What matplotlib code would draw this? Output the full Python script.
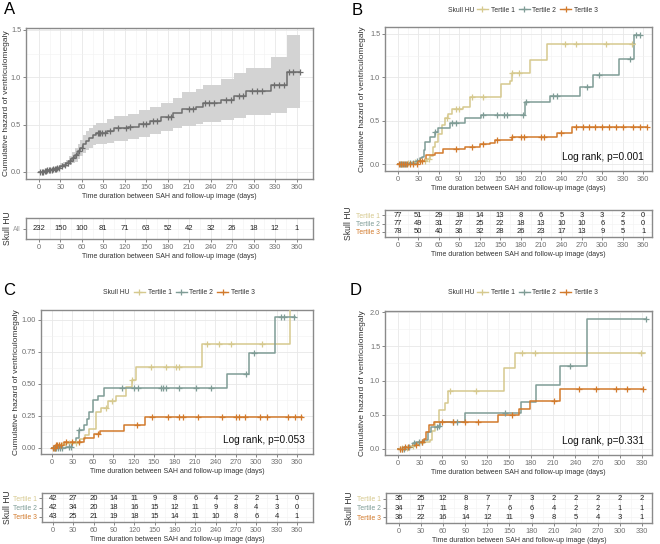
import numpy as np
import matplotlib

matplotlib.use("Agg")
import matplotlib.pyplot as plt
from matplotlib.lines import Line2D

plt.rcParams["font.family"] = ["Liberation Sans", "DejaVu Sans"]

# colours
c1 = "#D6C98E"
c2 = "#7F9C96"
c3 = "#D27A2C"
cA = "#6E6E6E"

W, H = 660, 544
xlab = "Time duration between SAH and follow-up image (days)"
ylab = "Cumulative hazard of ventriculomegaly"

# ---- panel A (all patients) ----
A_time = [0, 4, 8, 12, 16, 20, 25, 30, 34, 38, 42, 46, 50, 54, 58, 62, 66, 70, 75, 80,
          95, 105, 125, 140, 155, 170, 188, 200, 220, 230, 255, 272, 290, 325, 347]
A_haz = [0, .005, .01, .02, .025, .03, .04, .06, .075, .09, .12, .15, .18, .22, .25, .30, .33, .36, .39, .41,
         .435, .46, .48, .51, .54, .58, .62, .66, .69, .73, .76, .80, .86, .92, 1.06]
A_lo = [0, 0, 0, .005, .008, .01, .015, .03, .04, .05, .07, .09, .11, .14, .17, .20, .23, .25, .28, .30,
        .31, .33, .35, .37, .40, .43, .46, .49, .51, .53, .55, .57, .60, .62, .68]
A_hi = [0, .012, .02, .035, .04, .05, .065, .09, .11, .13, .17, .21, .25, .30, .34, .39, .43, .46, .50, .52,
        .56, .59, .61, .65, .69, .73, .78, .84, .88, .92, .98, 1.04, 1.10, 1.21, 1.45]
A_end = 365
A_cens = [2, 4, 6, 8, 10, 12, 14, 16, 18, 20, 22, 24, 26, 28, 32, 36, 40, 44, 48, 52, 56, 60,
          82, 84, 86, 88, 92, 100, 110, 122, 127, 145, 150, 160, 165, 180, 185, 210, 215, 232,
          238, 245, 262, 268, 280, 285, 298, 305, 312, 328, 335, 342, 350, 355, 365]
A_risk = [232, 150, 100, 81, 71, 63, 52, 42, 32, 26, 18, 12, 1]

# ---- panel B ----
B1_time = [0, 10, 20, 35, 42, 47, 52, 55, 59, 64, 69, 74, 79, 95, 106, 151, 165, 167, 194, 219]
B1_haz = [0, .01, .02, .04, .06, .09, .2, .26, .35, .45, .53, .58, .63, .66, .77, .92, .96, 1.05, 1.2, 1.38]
B1_end = 348
B1_cens = [5, 15, 25, 40, 45, 72, 85, 90, 108, 125, 168, 178, 245, 262, 305, 343]
B2_time = [0, 15, 27, 32, 35, 38, 40, 47, 54, 59, 76, 98, 122, 187, 223, 267, 287, 325, 346]
B2_haz = [0, .01, .04, .07, .085, .16, .26, .31, .37, .41, .47, .53, .565, .71, .79, .89, 1.03, 1.21, 1.49]
B2_end = 355
B2_cens = [3, 6, 9, 12, 18, 22, 28, 55, 80, 85, 125, 145, 155, 160, 183, 188, 227, 233, 278, 295,
           340, 350, 355]
B3_time = [0, 29, 39, 41, 55, 66, 99, 121, 135, 142, 167, 233, 255]
B3_haz = [0, .03, .06, .11, .13, .17, .2, .23, .24, .28, .31, .36, .43]
B3_end = 365
B3_cens = [2, 5, 8, 11, 14, 17, 22, 28, 32, 36, 85, 108, 125, 145, 167, 180, 185, 210, 215, 240,
           262, 272, 280, 290, 300, 310, 320, 330, 345, 355, 365]
B_risk = [[77, 51, 29, 18, 14, 13, 8, 6, 5, 3, 3, 2, 0],
          [77, 49, 31, 27, 25, 22, 18, 13, 10, 10, 6, 5, 0],
          [78, 50, 40, 36, 32, 28, 26, 23, 17, 13, 9, 5, 1]]

# ---- panel C ----
C1_time = [0, 6, 21, 42, 48, 55, 65, 72, 82, 94, 109, 118, 124, 221, 349]
C1_haz = [0, .02, .04, .07, .1, .15, .28, .31, .37, .41, .48, .53, .63, .81, 1.12]
C1_end = 352
C1_cens = [5, 10, 15, 25, 35, 80, 88, 118, 145, 167, 183, 187, 228, 245, 263, 308]
C2_time = [0, 20, 30, 35, 40, 47, 52, 55, 60, 67, 77, 257, 289, 327]
C2_haz = [0, .01, .04, .075, .14, .18, .23, .28, .375, .41, .47, .58, .74, 1.02]
C2_end = 357
C2_cens = [3, 6, 9, 12, 15, 25, 28, 40, 103, 120, 127, 160, 163, 167, 186, 212, 234, 285, 297,
           337, 341, 355]
C3_time = [0, 6, 18, 47, 62, 70, 106, 137]
C3_haz = [0, .02, .05, .08, .11, .13, .18, .24]
C3_end = 367
C3_cens = [2, 4, 6, 8, 10, 13, 20, 30, 40, 68, 125, 147, 170, 187, 193, 215, 250, 270, 275, 283,
           305, 316, 347, 357, 366]
C_risk = [[42, 27, 20, 14, 11, 9, 8, 6, 4, 2, 2, 1, 0],
          [42, 34, 20, 18, 16, 15, 12, 11, 9, 8, 4, 3, 0],
          [43, 25, 21, 19, 18, 15, 14, 11, 10, 8, 6, 4, 1]]

# ---- panel D ----
D1_time = [0, 5, 15, 25, 35, 43, 46, 50, 56, 64, 67, 144, 158]
D1_haz = [0, .02, .05, .08, .1, .13, .26, .40, .57, .67, .85, 1.18, 1.4]
D1_end = 334
D1_cens = [3, 6, 12, 20, 28, 70, 105, 168, 185, 328]
D2_time = [0, 10, 20, 25, 35, 40, 45, 54, 57, 90, 167, 187, 219, 256]
D2_haz = [0, .03, .08, .1, .13, .25, .32, .33, .40, .53, .68, .93, 1.21, 1.9]
D2_end = 336
D2_cens = [5, 8, 15, 22, 28, 32, 53, 55, 75, 80, 145, 232, 336]
D3_time = [0, 8, 20, 28, 35, 38, 42, 48, 135, 163, 179, 219]
D3_haz = [0, .03, .06, .1, .15, .25, .35, .39, .49, .58, .70, .87]
D3_end = 332
D3_cens = [3, 6, 10, 14, 25, 32, 60, 75, 90, 108, 154, 211, 245, 268, 295, 310, 332]
D_risk = [[35, 25, 12, 8, 7, 7, 3, 2, 2, 2, 2, 2],
          [34, 17, 11, 8, 7, 6, 6, 4, 2, 2, 1, 1],
          [36, 22, 16, 14, 12, 11, 9, 8, 5, 4, 3, 1]]

tert_labels = ["Tertile 1", "Tertile 2", "Tertile 3"]
tert_colors = [c1, c2, c3]

TICK_FS = 5.3
XLAB_FS = 5.0
YLAB_FS = 6.0


def rect(l, t, r, b):
    return [l / W, 1 - b / H, (r - l) / W, (b - t) / H]


def style_ax(ax, xticks, xlim, minor_x):
    ax.set_facecolor("white")
    ax.set_xlim(*xlim)
    ax.set_xticks(xticks)
    ax.set_xticks(minor_x, minor=True)
    ax.grid(True, which="major", color="#E8E8E8", lw=0.6, zorder=0)
    ax.grid(True, which="minor", color="#F2F2F2", lw=0.4, zorder=0)
    ax.set_axisbelow(True)
    for s in ax.spines.values():
        s.set_color("#8A8A8A")
        s.set_linewidth(1.0)
    ax.tick_params(which="major", length=2, width=0.5, color="#555555",
                   labelsize=TICK_FS, labelcolor="#707070", pad=1.5)
    ax.tick_params(which="minor", length=0)


def draw_curve(ax, t, h, end, cens, color, lw=1.1):
    t = np.asarray(t, float)
    h = np.asarray(h, float)
    tt = np.append(t, end)
    hh = np.append(h, h[-1])
    ax.plot(tt, hh, drawstyle="steps-post", color=color, lw=lw, zorder=3)
    cens = np.asarray(cens, float)
    idx = np.searchsorted(t, cens, side="right") - 1
    ax.plot(cens, h[idx], ls="none", marker="+", ms=4.5, mew=0.9, color=color, zorder=4)


def km_axes(rc, xlim, ylim, xticks, yticks, yfmt, ypad=2.5):
    ax = fig.add_axes(rect(*rc))
    style_ax(ax, xticks, xlim, [x + 15 for x in xticks[:-1]])
    ax.set_ylim(*ylim)
    ax.set_yticks(yticks)
    ax.set_yticks([(a + b) / 2 for a, b in zip(yticks[:-1], yticks[1:])], minor=True)
    ax.set_yticklabels([yfmt.format(v) for v in yticks])
    ax.set_xlabel(xlab, fontsize=XLAB_FS, color="#333333", labelpad=1.5)
    ax.set_ylabel(ylab, fontsize=YLAB_FS, color="#333333", labelpad=ypad)
    return ax


def risk_axes(rc, xlim, xticks, data, labels, colors, ypad=2):
    ax = fig.add_axes(rect(*rc))
    style_ax(ax, xticks, xlim, [x + 15 for x in xticks[:-1]])
    n = len(data)
    ax.set_ylim(-0.6, n - 0.4)
    ax.set_yticks(list(range(n - 1, -1, -1)))
    ax.set_yticklabels(labels)
    for lbl, col in zip(ax.get_yticklabels(), colors):
        lbl.set_color(col)
        lbl.set_fontsize(4.9)
    for i, row in enumerate(data):
        for x, v in zip(xticks, row):
            ax.text(x, n - 1 - i, str(v), ha="center", va="center", fontsize=5.5, color="#222222")
    ax.set_xlabel(xlab, fontsize=XLAB_FS, color="#333333", labelpad=1.5)
    ax.set_ylabel("Skull HU", fontsize=6.2, color="#333333", labelpad=ypad)
    ax.grid(True, which="major", axis="y", color="#F2F2F2", lw=0.4)
    return ax


def legend(x_title, y, x_leg):
    fig.text(x_title / W, 1 - y / H, "Skull HU", fontsize=4.9, color="#333333", va="center")
    handles = [Line2D([], [], color=c, lw=1.0, marker="+", ms=5, mew=0.9) for c in tert_colors]
    fig.legend(handles, tert_labels, loc="center left", bbox_to_anchor=(x_leg / W, 1 - y / H),
               ncol=3, frameon=False, prop={"size": 4.9}, handlelength=1.6, handletextpad=0.4,
               columnspacing=0.6, borderpad=0, borderaxespad=0, labelcolor="#333333")


fig = plt.figure(figsize=(6.6, 5.44), dpi=100)
fig.patch.set_facecolor("white")

xt360 = list(range(0, 361, 30))
xt330 = list(range(0, 331, 30))

# A
ax = km_axes((26, 28, 313, 179), (-18, 383), (-0.074, 1.52), xt360, [0, .5, 1.0, 1.5], "{:.1f}", ypad=0.8)
tA = np.append(A_time, A_end)
ax.fill_between(tA, np.append(A_lo, A_lo[-1]), np.append(A_hi, A_hi[-1]), step="post",
                color="#D3D3D3", lw=0, zorder=2)
draw_curve(ax, A_time, A_haz, A_end, A_cens, cA)
risk_axes((26, 218, 313, 239), (-18, 383), xt360, [A_risk], ["All"], ["#999999"], ypad=0.8)

# B
ax = km_axes((385, 27, 652, 171), (-19, 373), (-0.08, 1.58), xt360, [0, .5, 1.0, 1.5], "{:.1f}")
for t, h, e, cs, col in [(B1_time, B1_haz, B1_end, B1_cens, c1), (B2_time, B2_haz, B2_end, B2_cens, c2),
                         (B3_time, B3_haz, B3_end, B3_cens, c3)]:
    draw_curve(ax, t, h, e, cs, col)
ax.text(0.97, 0.06, "Log rank, p=0.001", transform=ax.transAxes, ha="right", va="bottom",
        fontsize=7.3, color="#111111")
risk_axes((385, 210, 652, 237), (-19, 373), xt360, B_risk, tert_labels, tert_colors)
legend(448, 10, 477)

# C
ax = km_axes((41, 310, 313, 454), (-16, 383.5), (-0.047, 1.078), xt360, [0, .25, .5, .75, 1.0], "{:.2f}",
             ypad=1.5)
for t, h, e, cs, col in [(C1_time, C1_haz, C1_end, C1_cens, c1), (C2_time, C2_haz, C2_end, C2_cens, c2),
                         (C3_time, C3_haz, C3_end, C3_cens, c3)]:
    draw_curve(ax, t, h, e, cs, col)
ax.text(0.97, 0.06, "Log rank, p=0.053", transform=ax.transAxes, ha="right", va="bottom",
        fontsize=7.3, color="#111111")
risk_axes((42, 493, 313, 522), (-16, 383.5), xt360, C_risk, tert_labels, tert_colors, ypad=1)
legend(103, 293, 134)

# D
ax = km_axes((385, 311, 652, 455), (-17.6, 343.5), (-0.088, 2.015), xt330, [0, .5, 1.0, 1.5, 2.0], "{:.1f}")
for t, h, e, cs, col in [(D1_time, D1_haz, D1_end, D1_cens, c1), (D2_time, D2_haz, D2_end, D2_cens, c2),
                         (D3_time, D3_haz, D3_end, D3_cens, c3)]:
    draw_curve(ax, t, h, e, cs, col)
ax.text(0.97, 0.06, "Log rank, p=0.331", transform=ax.transAxes, ha="right", va="bottom",
        fontsize=7.3, color="#111111")
risk_axes((386, 493, 652, 523), (-17.6, 343.5), xt330, D_risk, tert_labels, tert_colors)
legend(448, 293, 477)

# panel letters
for x, y, s in [(4, 2, "A"), (352, 3, "B"), (3, 283, "C"), (350, 283, "D")]:
    fig.text(x / W, 1 - y / H, s, fontsize=12, va="top", ha="left", color="black")

fig.savefig("out.png", dpi=100)
